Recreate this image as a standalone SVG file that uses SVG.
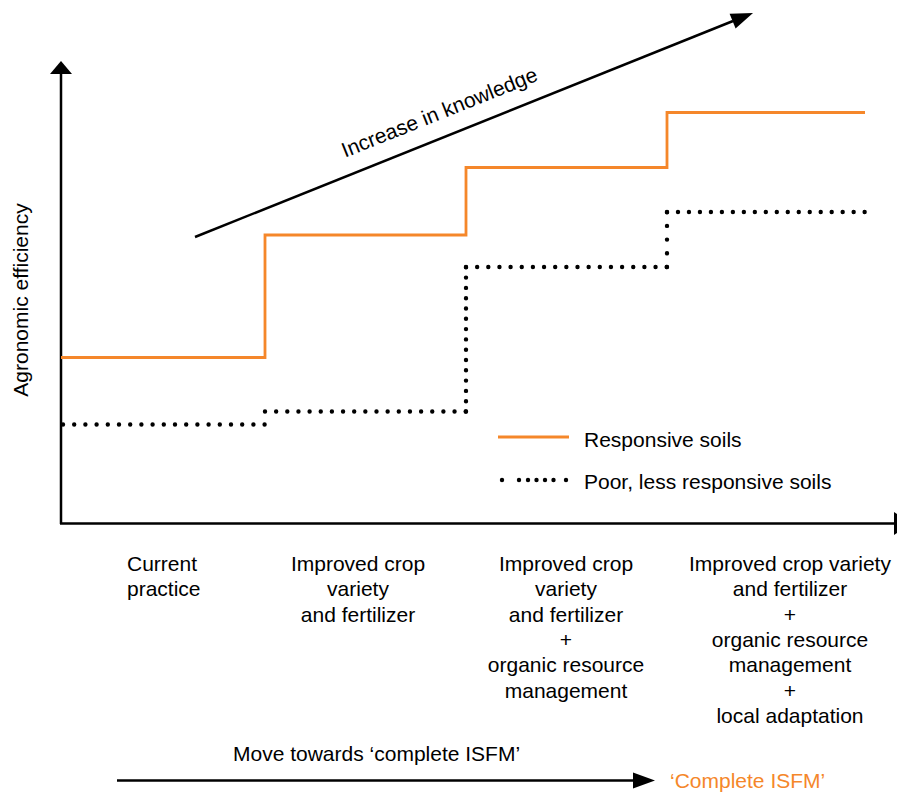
<svg xmlns="http://www.w3.org/2000/svg" width="897" height="792" viewBox="0 0 897 792">
<style>
text { font-family: "Liberation Sans", Arial, Helvetica, sans-serif; font-size: 21px; fill: #000; }
.mid { text-anchor: middle; }
.orange { fill: #F5872A; }
.axis { stroke: #000; stroke-width: 2.5; fill: none; }
.resp { stroke: #F5872A; stroke-width: 2.8; fill: none; stroke-linejoin: miter; }
.poor { stroke: #000; stroke-width: 4.4; fill: none; stroke-linecap: round; }
.dot { fill: #000; }
</style>
<rect width="897" height="792" fill="#fff"/>

<g id="axes">
  <line class="axis" x1="61" y1="72" x2="61" y2="524"/>
  <polygon points="61,61 50,74 72,74" fill="#000"/>
  <line class="axis" x1="60" y1="523.5" x2="896" y2="523.5"/>
  <polygon points="894,512 894,535 912,523.5" fill="#000"/>
  <text transform="translate(28,300) rotate(-90)" class="mid">Agronomic efficiency</text>
</g>

<g id="responsive-soils">
  <path class="resp" d="M61,357.5 H265 V235 H466 V167.5 H667 V112.5 H865"/>
</g>

<g id="poor-soils">
  <path class="poor" stroke-dasharray="0 11.2" d="M63,424.5 H265"/>
  <path class="poor" stroke-dasharray="0 11.15" d="M265,411.5 H466"/>
  <path class="poor" stroke-dasharray="0 10.3" d="M466,411.5 V267"/>
  <path class="poor" stroke-dasharray="0 11.15" d="M466,267 H667"/>
  <path class="poor" stroke-dasharray="0 13.7" d="M667,267 V212"/>
  <path class="poor" stroke-dasharray="0 10.98" d="M667,212 H865"/>
</g>

<g id="connectors">
  <g id="knowledge-arrow">
    <line x1="195" y1="237" x2="733" y2="21" stroke="#000" stroke-width="2.5"/>
    <polygon points="753,13 735.6,28.6 729.6,13.8" fill="#000"/>
  </g>
  <g id="isfm-arrow">
    <line x1="117" y1="780.5" x2="636" y2="780.5" stroke="#000" stroke-width="2.5"/>
    <polygon points="633,772.5 633,788.5 655,780.5" fill="#000"/>
  </g>
</g>

<g id="knowledge-label">
  <text transform="translate(442,119) rotate(-21.8)" class="mid">Increase in knowledge</text>
</g>

<g id="legend">
  <line x1="498" y1="437" x2="569" y2="437" stroke="#F5872A" stroke-width="2.8"/>
  <text x="584" y="446.5">Responsive soils</text>
  <circle class="dot" cx="502" cy="480" r="2.2"/>
  <circle class="dot" cx="519" cy="480" r="2.2"/>
  <circle class="dot" cx="528" cy="480" r="2.2"/>
  <circle class="dot" cx="536.5" cy="480" r="2.2"/>
  <circle class="dot" cx="545" cy="480" r="2.2"/>
  <circle class="dot" cx="553.5" cy="480" r="2.2"/>
  <circle class="dot" cx="566" cy="480" r="2.2"/>
  <text x="584" y="489">Poor, less responsive soils</text>
</g>

<g id="label-current">
  <text x="127" y="571">Current</text>
  <text x="127" y="596.3">practice</text>
</g>

<g id="label-improved">
  <text class="mid" x="358" y="571">Improved crop</text>
  <text class="mid" x="358" y="596.3">variety</text>
  <text class="mid" x="358" y="621.6">and fertilizer</text>
</g>

<g id="label-organic">
  <text class="mid" x="566" y="571">Improved crop</text>
  <text class="mid" x="566" y="596.3">variety</text>
  <text class="mid" x="566" y="621.6">and fertilizer</text>
  <text class="mid" x="566" y="646.9">+</text>
  <text class="mid" x="566" y="672.2">organic resource</text>
  <text class="mid" x="566" y="697.5">management</text>
</g>

<g id="label-local">
  <text class="mid" x="790" y="571">Improved crop variety</text>
  <text class="mid" x="790" y="596.3">and fertilizer</text>
  <text class="mid" x="790" y="621.6">+</text>
  <text class="mid" x="790" y="646.9">organic resource</text>
  <text class="mid" x="790" y="672.2">management</text>
  <text class="mid" x="790" y="697.5">+</text>
  <text class="mid" x="790" y="722.8">local adaptation</text>
</g>

<g id="isfm-labels">
  <text x="233" y="761">Move towards ‘complete ISFM’</text>
  <text class="orange" x="670" y="788">‘Complete ISFM’</text>
</g>
</svg>
